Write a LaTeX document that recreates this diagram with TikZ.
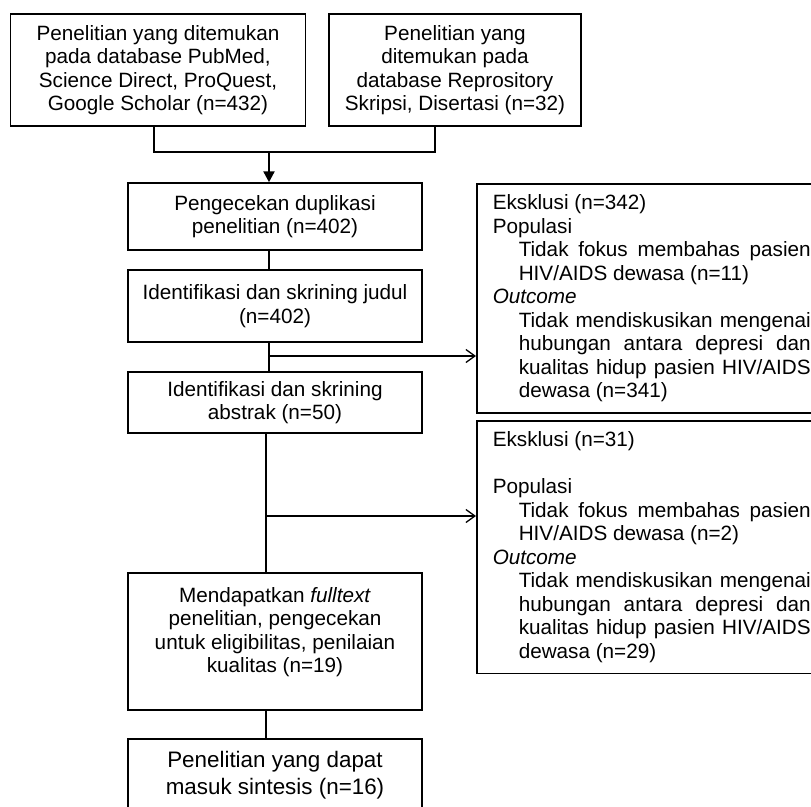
\documentclass[tikz,border=0pt]{standalone}
\usepackage{fontspec}
\setmainfont{Liberation Sans}
\usetikzlibrary{positioning,arrows.meta}
\setlength{\parindent}{0pt}
\setlength{\parskip}{0pt}
\tolerance=10000
\hbadness=10000

\begin{document}
\begin{tikzpicture}[
    x=1pt, y=-1pt,
    font=\fontsize{20.7}{23.5}\selectfont,
    stage/.style={
        draw,
        line width=1.5pt,
        minimum width=294pt,
        align=center,
        inner sep=4pt
    },
    exclbox/.style={
        draw,
        line width=1.5pt,
        text width=318pt,
        align=justify,
        inner xsep=16pt,
        inner ysep=11pt,
        anchor=north west
    },
    link/.style={
        -,
        line width=1.3pt
    },
    mainarrow/.style={
        -{Triangle[length=11pt,width=11pt]},
        line width=2.4pt
    },
    sidearrow/.style={
        -{Straight Barb[length=9pt,width=13pt]},
        line width=1.3pt
    }
]
\useasboundingbox (0,0) rectangle (811,806);
\clip (0,0) rectangle (811,806);

% sources
\node[stage, minimum width=295pt, minimum height=112pt] (pubmed) at (158,70) {Penelitian yang ditemukan\\pada database PubMed,\\Science Direct, ProQuest,\\Google Scholar (n=432)};
\node[stage, minimum width=252pt, minimum height=112pt] (repo) at (455,70) {Penelitian yang\\ditemukan pada\\database Reprository\\Skripsi, Disertasi (n=32)};

% screening steps
\node[stage, minimum height=67pt] (dup)      at (275,216.5) {Pengecekan duplikasi\\penelitian (n=402)};
\node[stage, minimum height=72pt] (title)    at (275,306)   {Identifikasi dan skrining judul\\(n=402)};
\node[stage, minimum height=61pt] (abstract) at (275,402.5) {Identifikasi dan skrining\\abstrak (n=50)};
\node[stage, minimum height=137pt] (fulltext) at (275,641.5) {Mendapatkan \textit{fulltext}\\penelitian, pengecekan\\untuk eligibilitas, penilaian\\kualitas (n=19)\\ \mbox{}};
\node[stage, minimum height=72pt, anchor=north, font=\fontsize{22.4}{27}\selectfont] (synth) at (275,738) {Penelitian yang dapat\\masuk sintesis (n=16)};

% exclusions
\node[exclbox] (excl1) at (476,183) {%
Eksklusi (n=342)\par
Populasi\par
{\leftskip=26pt Tidak fokus membahas pasien\linebreak HIV/AIDS dewasa (n=11)\par}
\textit{Outcome}\par
{\leftskip=26pt Tidak mendiskusikan mengenai\linebreak hubungan antara depresi dan\linebreak kualitas hidup pasien HIV/AIDS\linebreak dewasa (n=341)\par}};

\node[exclbox] (excl2) at (476,420) {%
Eksklusi (n=31)\par
\mbox{}\par
Populasi\par
{\leftskip=26pt Tidak fokus membahas pasien\linebreak HIV/AIDS dewasa (n=2)\par}
\textit{Outcome}\par
{\leftskip=26pt Tidak mendiskusikan mengenai\linebreak hubungan antara depresi dan\linebreak kualitas hidup pasien HIV/AIDS\linebreak dewasa (n=29)\par}};

% merge of the two sources
\coordinate (joinL) at (154,152);
\coordinate (joinR) at (435,152);
\coordinate (join)  at (269,152);
\draw[link] (pubmed.south -| joinL) -- (joinL) -- (joinR) -- (repo.south -| joinR);
\draw[mainarrow] (join) -- (dup.north -| join);

% main flow
\coordinate (skip1) at (269,356);
\coordinate (skip2) at (266,516);
\draw[link] (dup.south -| join) -- (title.north -| join);
\draw[link] (title.south -| join) -- (abstract.north -| join);
\draw[link] (abstract.south -| skip2) -- (fulltext.north -| skip2);
\draw[link] (fulltext.south -| skip2) -- (synth.north -| skip2);

% to exclusions
\draw[sidearrow] (skip1) -- (skip1 -| excl1.west);
\draw[sidearrow] (skip2) -- (skip2 -| excl2.west);

\end{tikzpicture}
\end{document}
